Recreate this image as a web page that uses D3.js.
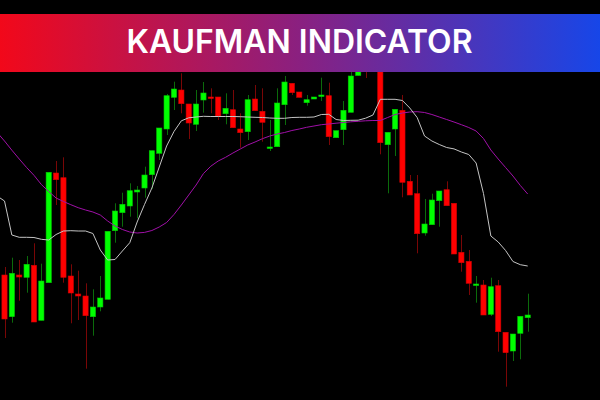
<!DOCTYPE html>
<html>
<head>
<meta charset="utf-8">
<script src="https://cdn.jsdelivr.net/npm/d3@7"></script>
<style>
  html, body { margin: 0; padding: 0; background: #000; }
  svg { display: block; }
</style>
</head>
<body>
<svg id="chart" width="600" height="400"></svg>
<script>
// ---- Data (price units, arbitrary) ----
const title = "KAUFMAN INDICATOR";
const opens = [125,83.3,125,122.7,134.7,79.7,117.3,227,222.3,124,106,104,83.3,93,100.7,169.3,187.3,194,208,212,225.3,246.7,271,302.7,310,296,275.7,300,303,303,286.3,290.3,271,268.3,301,288.7,252.3,253.3,295.3,316.7,308,297.3,301,304,304.3,262.3,270.3,287.7,324.5,348,334,340,255.3,271,289.7,218.7,206.3,167,175.3,199.3,210.3,196.7,147.7,138.7,115.3,115,85.7,114.3,67.7,49,66.7,82.3];
const highs = [133,142.3,140,144,156.7,136.3,227.7,239,242.7,135.7,129.3,116.7,110.7,124,168.7,196.7,207.3,216.7,214,233.3,249.3,272,306,318.3,326.7,296,310,318,311.7,303,306.7,310,286.7,305,315,311.7,280,311.7,324,316.7,308,305,303,322.3,317.3,269.3,299,330,338,355,350,345,267.7,290.7,305,225,225,201,206.3,209,218.7,196.7,165,150,124,120,122.3,120,67.7,66,83.7,106.3];
const lows = [62,77.3,99.3,107.3,78,79.7,117.3,195,117.3,76.7,80,31.3,64.3,88.7,100.7,157.3,173.3,183.3,181.7,202.3,211.3,240,265,290,286.7,261,269,287.3,286.7,280,275.7,272.3,252.3,260,289.3,258.3,249,253.3,275,305,302.7,294.3,301,299,255,262.3,255,287.7,324.5,322,331,245.7,206.7,244,202.7,205,146.7,164.3,175.3,173.3,194.3,146,128.3,105,97.3,85,84,48.3,13.3,39,40.7,68.3];
const closes = [81,126.7,123,135.7,78,119,227.7,220.3,122.7,107,104,84.3,93,102,168.7,189,195.7,209.3,210,225,249.3,272,304.3,311,296.3,277,296,307,301.7,284,291.7,272.3,267.3,300.3,289.3,277.7,253,297,318,307.3,302.7,300.3,303,305,263.3,269.3,289.7,324,334,334,344,257.3,267.7,290.7,217.7,205,166.3,176,200,209,194.3,146,137.3,116.7,116,85,113.3,68.3,47.3,66,83.7,85];

// Adaptive moving average lines (first value belongs to the bar before the first visible candle)
const amaFast = [196,201,235,237.3,237.3,237.5,239.3,240,234.5,231,230.7,231,231,233.5,250,260,259.5,251,242.7,222,204.5,188,167,146,131.5,120.8,117.8,117,116.3,116.5,116.5,116.5,116.5,116.7,117,117.3,117.5,118,118.3,118.3,117.5,117.3,117.3,117,114.5,114.3,119.5,120.5,120.3,120.2,118.2,115,99.3,99.3,99.3,100.5,108,117.5,136,141,144.5,147.5,148.9,152,154.5,163,193.5,236,242,250.5,261.5,264.7,266].map(v => 400 - v);
const amaSlow = [132.5,141,150.2,159,167.5,175.3,184.5,191.5,198,201.5,204.7,207.7,210,212,215,221,226,229.5,232,233,232.4,230.5,227,222.5,214.5,205,195,185,173.5,166.2,161,157.3,153,149,145,142,138.7,136,134,132.5,130.5,129,127.3,126,124.7,124,123.2,122.5,121.8,121.3,120.8,120.5,120.5,117.5,114.5,113,112,111.7,112.5,114.5,117,119.5,122,124.7,127.5,131,138.5,150,159,167.5,176,185.5,194].map(v => 400 - v);

const candles = opens.map((o, i) => ({ i, o, h: highs[i], l: lows[i], c: closes[i] }));

// ---- Scales ----
const W = 600, H = 400;
const x = d3.scaleLinear().domain([0, 71]).range([4.5, 527.7]);
const y = d3.scaleLinear().domain([0, 400]).range([400, 0]);

const svg = d3.select("#chart");
svg.append("rect").attr("width", W).attr("height", H).attr("fill", "#000");

const bodyW = 5.2;
const g = svg.append("g");

// wicks
g.selectAll("line.wick").data(candles).join("line")
  .attr("class", "wick")
  .attr("x1", d => Math.round(x(d.i)) + 0.5)
  .attr("x2", d => Math.round(x(d.i)) + 0.5)
  .attr("y1", d => y(d.h))
  .attr("y2", d => y(d.l))
  .attr("stroke", d => d.c >= d.o ? "#0b6b0b" : "#7a0606")
  .attr("stroke-width", 1);

// bodies
g.selectAll("rect.body").data(candles).join("rect")
  .attr("class", "body")
  .attr("x", d => x(d.i) - bodyW / 2)
  .attr("width", bodyW)
  .attr("y", d => y(Math.max(d.o, d.c)))
  .attr("height", d => Math.max(1.5, Math.abs(y(d.o) - y(d.c))))
  .attr("fill", d => d.c >= d.o ? "#00ff00" : "#ff0000")
  .attr("stroke", d => d.c >= d.o ? "#00c800" : "#d00000")
  .attr("stroke-width", 0.6);

// lines
const lineFor = arr => d3.line()
  .x((d, k) => x(k - 1))
  .y(d => y(d))
  .curve(d3.curveLinear)(arr);

svg.append("path").attr("d", lineFor(amaSlow))
  .attr("fill", "none").attr("stroke", "#a010a8").attr("stroke-width", 1);
svg.append("path").attr("d", lineFor(amaFast))
  .attr("fill", "none").attr("stroke", "#c4c4c4").attr("stroke-width", 1);

// ---- Banner ----
const defs = svg.append("defs");
const grad = defs.append("linearGradient").attr("id", "bannerGrad")
  .attr("x1", "0%").attr("x2", "100%").attr("y1", "0%").attr("y2", "0%");
grad.append("stop").attr("offset", "0%").attr("stop-color", "#f2081a");
grad.append("stop").attr("offset", "50%").attr("stop-color", "#8a2080");
grad.append("stop").attr("offset", "100%").attr("stop-color", "#1746e8");

svg.append("rect").attr("x", 0).attr("y", 0).attr("width", W).attr("height", 14).attr("fill", "#000");
svg.append("rect").attr("x", 0).attr("y", 14).attr("width", W).attr("height", 58)
  .attr("fill", "url(#bannerGrad)");

svg.append("text")
  .attr("x", 299.5).attr("y", 52.7)
  .attr("text-anchor", "middle")
  .attr("font-family", "Inter, 'Open Sans', sans-serif")
  .attr("font-weight", 600)
  .attr("font-size", 32)
  .attr("fill", "#ffffff")
  .attr("textLength", 346)
  .attr("lengthAdjust", "spacingAndGlyphs")
  .text(title);
</script>
</body>
</html>
